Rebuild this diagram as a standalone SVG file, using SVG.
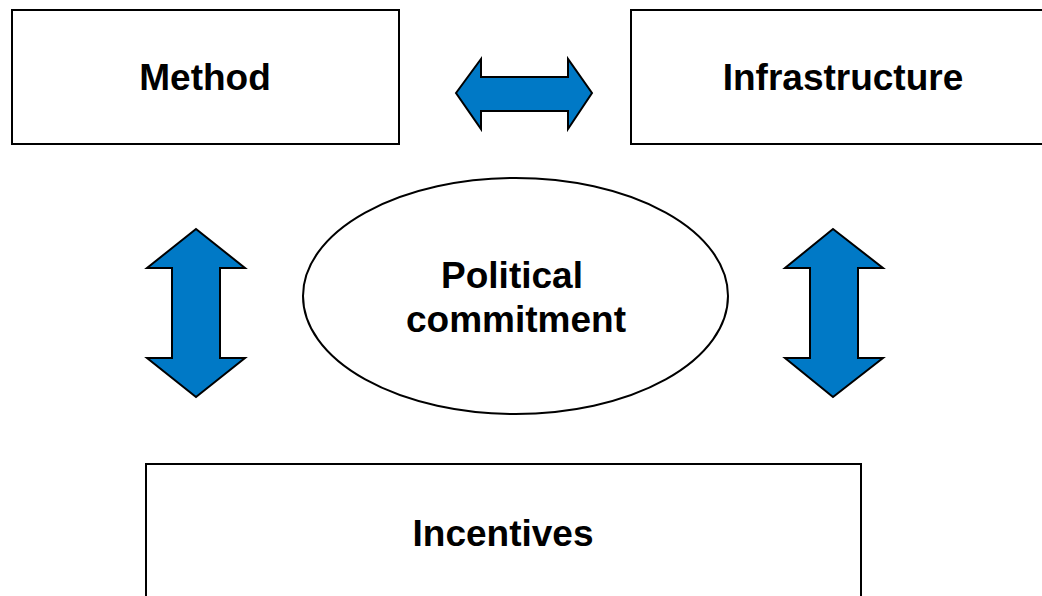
<svg xmlns="http://www.w3.org/2000/svg" width="1042" height="596" viewBox="0 0 1042 596">
<style>
.box{fill:#fff;stroke:#000;stroke-width:2}
.lbl{font-family:"Liberation Sans",Arial,sans-serif;font-weight:bold;font-size:37px;fill:#000;text-anchor:middle}
.arr{fill:#0079C6;stroke:#000;stroke-width:2;stroke-linejoin:miter}
</style>
<rect width="1042" height="596" fill="#fff"/>
<g id="method"><rect class="box" x="12" y="10" width="387" height="134"/><text class="lbl" x="205" y="90">Method</text></g>
<g id="infrastructure"><rect class="box" x="631" y="10" width="420" height="134"/><text class="lbl" x="843" y="90">Infrastructure</text></g>
<g id="political"><ellipse class="box" cx="515.5" cy="296" rx="212.5" ry="118"/><text class="lbl" x="512" y="288">Political</text><text class="lbl" x="516" y="332">commitment</text></g>
<g id="incentives"><rect class="box" x="146" y="464" width="715" height="150"/><text class="lbl" x="503" y="546">Incentives</text></g>
<g id="connectors">
<polygon class="arr" points="456,93 481,59 481,77 568,77 568,59 592,93 568,129 568,111 481,111 481,129"/>
<polygon class="arr" points="196,229 245,268 220,268 220,358 245,358 196,397 147,358 172,358 172,268 147,268"/>
<polygon class="arr" points="833,229 883,268 858,268 858,358 883,358 833,397 785,358 810,358 810,268 785,268"/>
</g>
</svg>
